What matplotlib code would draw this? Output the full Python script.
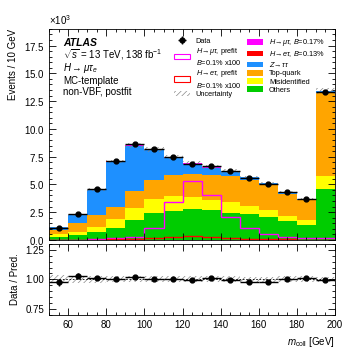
import numpy as np
import matplotlib
matplotlib.use('Agg')
import matplotlib.pyplot as plt
from matplotlib import ticker
from matplotlib.patches import Patch

plt.rcParams['font.family'] = ['Liberation Sans', 'DejaVu Sans']
plt.rcParams['mathtext.fontset'] = 'custom'
plt.rcParams['mathtext.rm'] = 'Liberation Sans'
plt.rcParams['mathtext.it'] = 'Liberation Sans:italic'
plt.rcParams['mathtext.bf'] = 'Liberation Sans:bold'
plt.rcParams['hatch.linewidth'] = 0.5

# bin edges of m_coll (GeV)
edges = np.arange(50, 201, 10)

# events per bin
data = [1110, 2320, 4600, 7100, 8640, 8160, 7470, 6870, 6630, 6170, 5540, 5000, 4340, 3670, 13350]
data_err = [33, 48, 68, 84, 93, 90, 86, 83, 81, 79, 74, 71, 66, 61, 116]

others = [300, 450, 700, 1100, 1750, 2380, 2620, 2770, 2680, 2410, 2320, 2050, 1720, 1360, 4580]
misid = [250, 300, 500, 770, 1110, 1290, 1300, 1060, 930, 1020, 750, 660, 450, 390, 1140]
topq = [350, 750, 1000, 1130, 1510, 1750, 1950, 2100, 2260, 2290, 2350, 2260, 1990, 1860, 7480]
ztt = [240, 750, 2330, 4060, 4130, 2680, 1540, 910, 640, 440, 240, 130, 150, 30, 170]
etau_fit = [0, 0, 0, 1, 1, 3, 4, 5, 4, 3, 2, 1, 1, 0, 0]
mutau_fit = [0, 0, 1, 3, 5, 19, 57, 91, 68, 36, 18, 9, 5, 3, 3]

# prefit signals, B=0.1%, scaled x100
mutau_prefit = [10, 20, 50, 150, 300, 1100, 3370, 5330, 4000, 2100, 1050, 540, 300, 200, 150]
etau_prefit = [5, 10, 20, 40, 90, 200, 290, 360, 300, 210, 120, 60, 40, 30, 30]

# relative total uncertainty
unc_rel = [0.035, 0.03, 0.03, 0.025, 0.025, 0.025, 0.025, 0.025, 0.025, 0.025, 0.02, 0.02, 0.025, 0.025, 0.02]

stack = [(others, '#00cc00', 'Others'),
         (misid, '#ffff00', 'Misidentified'),
         (topq, '#ffa500', 'Top-quark'),
         (ztt, '#1e90ff', r'$Z\!\rightarrow\!\tau\tau$'),
         (etau_fit, '#ff0000', r'$H\!\rightarrow\!e\tau$, $B$=0.13%'),
         (mutau_fit, '#ff00ff', r'$H\!\rightarrow\!\mu\tau$, $B$=0.17%')]

fs = 7
lfs = 5.3

fig = plt.figure(figsize=(3.57, 3.57), dpi=100)
ax = fig.add_axes([0.138, 0.328, 0.800, 0.591])
rax = fig.add_axes([0.138, 0.118, 0.800, 0.199], sharex=ax)

centers = 0.5 * (edges[1:] + edges[:-1])
bottom = np.zeros(len(centers))
for vals, col, lab in stack:
    vals = np.array(vals, dtype=float)
    ax.stairs(bottom + vals, edges, baseline=bottom.copy(), fill=True, color=col, lw=0)
    bottom = bottom + vals
total = bottom
unc = total * np.array(unc_rel)

ax.stairs(total + unc, edges, baseline=total - unc, fill=True, facecolor='none',
          edgecolor='#888888', hatch='//////', lw=0)
ax.stairs(mutau_prefit, edges, color='#ff00ff', lw=1.0)
ax.stairs(etau_prefit, edges, color='#ff0000', lw=1.0)
dat = ax.errorbar(centers, data, yerr=data_err, xerr=5, fmt='o', color='black',
                  ms=3.5, lw=1.0, capsize=0)

ax.set_xlim(50, 200)
ax.set_ylim(0, 19000)
ax.yaxis.set_major_locator(ticker.MultipleLocator(2500))
ax.yaxis.set_minor_locator(ticker.MultipleLocator(500))
fmt = ticker.ScalarFormatter(useMathText=True)
fmt.set_powerlimits((3, 3))
ax.yaxis.set_major_formatter(fmt)
ax.yaxis.get_offset_text().set_fontsize(fs)
ax.set_ylabel('Events / 10 GeV', fontsize=fs, loc='top')
plt.setp(ax.get_xticklabels(), visible=False)

for a in (ax, rax):
    a.tick_params(which='both', direction='in', top=True, right=True, labelsize=fs)
    a.tick_params(which='major', length=5, width=0.6)
    a.tick_params(which='minor', length=2.5, width=0.6)
    for s in a.spines.values():
        s.set_linewidth(0.6)
    a.xaxis.set_major_locator(ticker.MultipleLocator(20))
    a.xaxis.set_minor_locator(ticker.MultipleLocator(5))

# text block
tx = 0.048
ax.text(tx, 0.934, 'ATLAS', transform=ax.transAxes, fontsize=fs + 0.5, fontweight='bold',
        style='italic', va='center')
ax.text(tx, 0.877, r'$\sqrt{s}$ = 13 TeV, 138 fb$^{-1}$', transform=ax.transAxes,
        fontsize=fs, va='center')
ax.text(tx, 0.815, r'$H\rightarrow\mu\tau_{e}$', transform=ax.transAxes, fontsize=fs, va='center')
ax.text(tx, 0.755, 'MC-template', transform=ax.transAxes, fontsize=fs, va='center')
ax.text(tx, 0.703, 'non-VBF, postfit', transform=ax.transAxes, fontsize=fs, va='center')

# legends
left_h = [dat,
          Patch(facecolor='white', edgecolor='#ff00ff', lw=0.8),
          Patch(facecolor='white', edgecolor='#ff0000', lw=0.8),
          Patch(facecolor='none', edgecolor='#888888', hatch='//////', lw=0)]
left_l = ['Data',
          '$H\\!\\rightarrow\\!\\mu\\tau$, prefit\n$B$=0.1% x100',
          '$H\\!\\rightarrow\\!e\\tau$, prefit\n$B$=0.1% x100',
          'Uncertainty']
leg1 = ax.legend(left_h, left_l, loc='upper left', bbox_to_anchor=(0.436, 0.96),
                 frameon=False, fontsize=lfs, handlelength=2.2, handleheight=0.8,
                 handletextpad=0.8, labelspacing=0.15, borderpad=0, borderaxespad=0)
ax.add_artist(leg1)
right_h = [Patch(facecolor=c, lw=0) for _, c, _ in stack[::-1]]
right_l = [l for _, _, l in stack[::-1]]
ax.legend(right_h, right_l, loc='upper left', bbox_to_anchor=(0.692, 0.96),
          frameon=False, fontsize=lfs, handlelength=2.2, handleheight=0.8,
          handletextpad=0.8, labelspacing=0.12, borderpad=0, borderaxespad=0)

# ratio panel
ratio = np.array(data) / total
rax.stairs(1 + np.array(unc_rel), edges, baseline=1 - np.array(unc_rel), fill=True,
           facecolor='none', edgecolor='#888888', hatch='//////', lw=0)
rax.axhline(1.0, color='black', lw=0.6, ls=(0, (2, 2)))
rax.errorbar(centers, ratio, yerr=np.array(data_err) / total, xerr=5, fmt='o',
             color='black', ms=3.5, lw=1.0, capsize=0)
rax.set_ylim(0.7, 1.3)
rax.yaxis.set_major_locator(ticker.FixedLocator([0.75, 1.0, 1.25]))
rax.yaxis.set_minor_locator(ticker.MultipleLocator(0.05))
rax.yaxis.set_major_formatter(ticker.FormatStrFormatter('%.2f'))
rax.set_ylabel('Data / Pred.', fontsize=fs)
rax.set_xlabel(r'$m_{\mathrm{coll}}$ [GeV]', fontsize=fs, loc='right')
rax.set_xlim(50, 200)

fig.align_ylabels([ax, rax])
fig.savefig('out.png', dpi=100)
